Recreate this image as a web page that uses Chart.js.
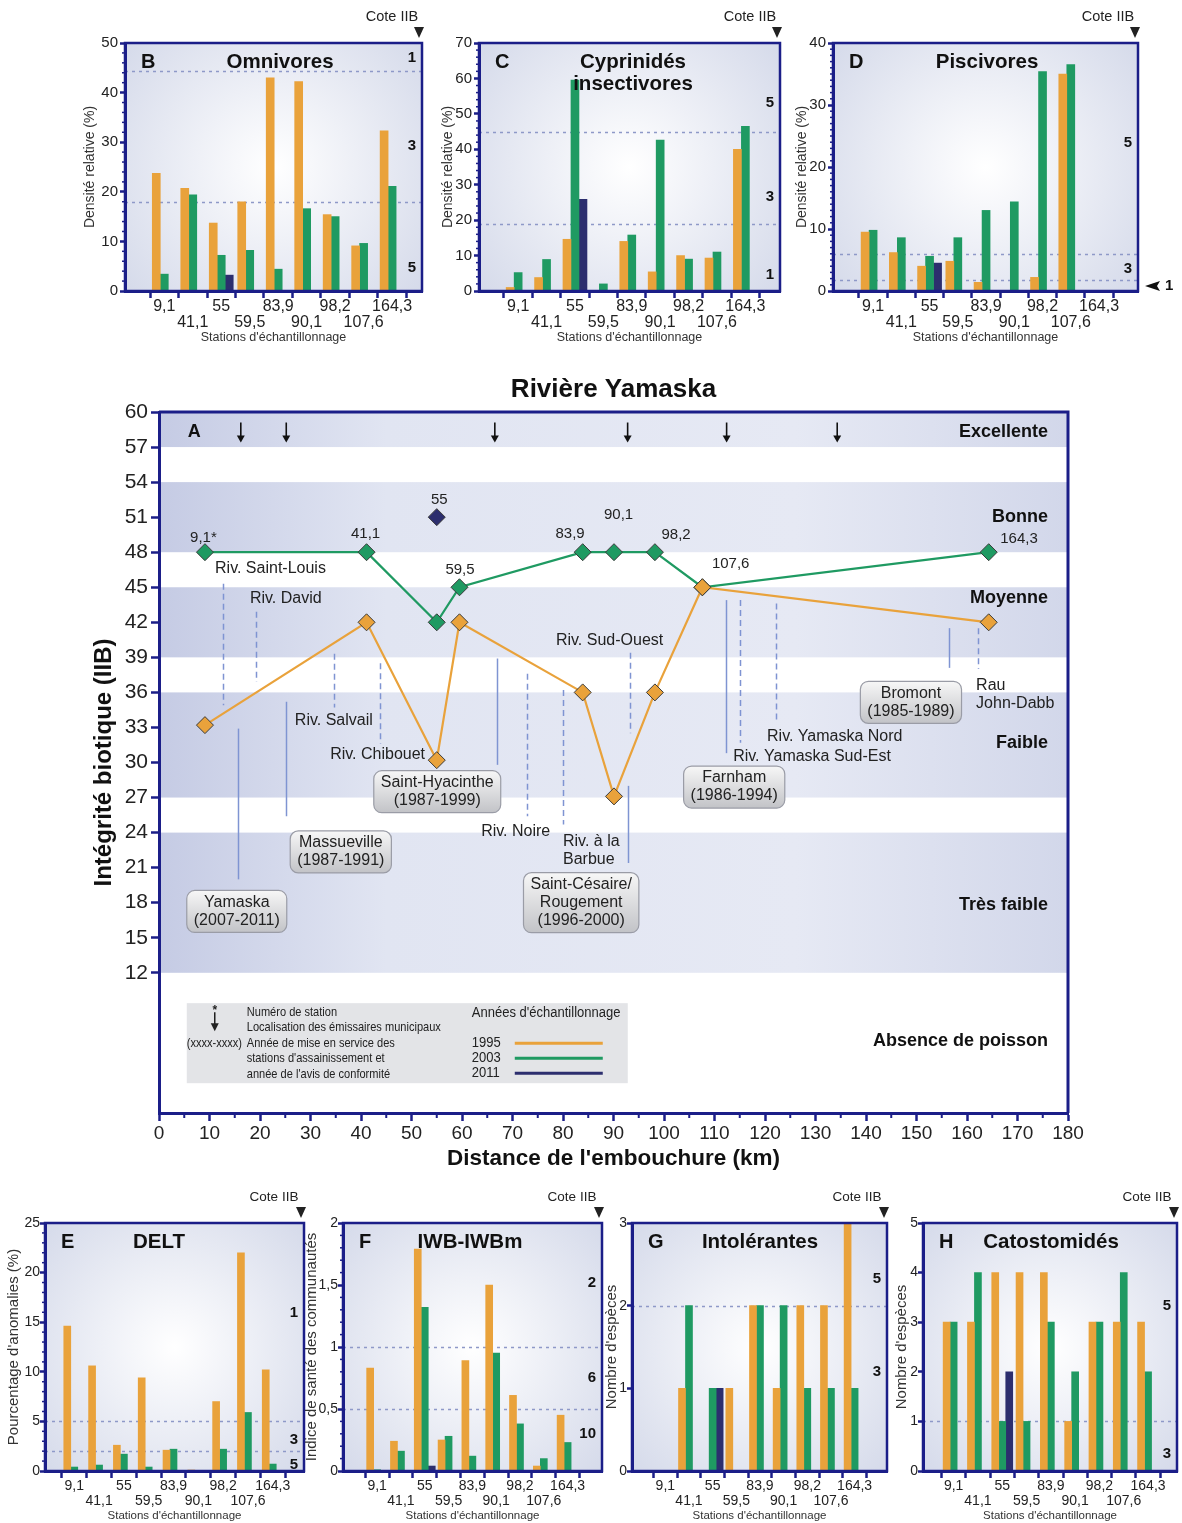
<!DOCTYPE html>
<html lang="fr">
<head>
<meta charset="utf-8">
<title>Rivière Yamaska</title>
<script src="https://cdn.jsdelivr.net/npm/chart.js@4.4.1/dist/chart.umd.min.js"></script>
<style>
  html, body { margin: 0; padding: 0; background: #fff; }
  #page { position: relative; width: 1182px; height: 1523px; overflow: hidden; }
  #page canvas { position: absolute; }
</style>
</head>
<body>
<div id="page"></div>
<script>
// ---- Données communes ----
const stations = ['9,1', '41,1', '55', '59,5', '83,9', '90,1', '98,2', '107,6', '164,3'];
const stationKm = [9.1, 41.1, 55, 59.5, 83.9, 90.1, 98.2, 107.6, 164.3];
const years = ['1995', '2003', '2011'];

// ---- A : IIB le long de la rivière ----
const iib1995 = [33.2, 42, 30.2, 42, 36, 27.1, 36, 45, 42];
const iib2003 = [48, 48, 42, 45, 48, 48, 48, 45, 48];
const iib2011Km = [55];
const iib2011 = [51];

const classNames = ['Excellente', 'Bonne', 'Moyenne', 'Faible', 'Très faible', 'Absence de poisson'];
const classLow = [57, 48, 39, 27, 12, 0];
const classHigh = [60, 54, 45, 36, 24, 12];
const classShaded = [true, true, true, true, true, false];
const classLabelIib = [58.3, 51, 44.1, 31.7, 17.8, 6.2];

const stationLabel = ['9,1*', '41,1', '55', '59,5', '83,9', '90,1', '98,2', '107,6', '164,3'];
const stationLabelKm = [8.8, 40.9, 55.5, 59.6, 81.4, 91.0, 102.4, 113.2, 170.3];
const stationLabelIib = [49.2, 49.6, 52.5, 46.5, 49.6, 51.2, 49.5, 47.0, 49.1];

const outfallKm = [16.2, 25.2, 66.5, 92.8, 112.4, 134.3];

const tribNames = ['Riv. Saint-Louis', 'Riv. David', 'Riv. Salvail', 'Riv. Chibouet', 'Riv. Noire',
  'Riv. à la\nBarbue', 'Riv. Sud-Ouest', 'Riv. Yamaska Sud-Est', 'Riv. Yamaska Nord', 'Rau\nJohn-Dabb'];
const tribKm = [12.6, 19.2, 34.6, 43.7, 72.9, 80.0, 93.2, 115.0, 122.1, 162.1];
const tribTop = [45.3, 42.9, 39.3, 38.5, 37.6, 36.2, 39.4, 43.9, 43.6, 41.5];
const tribBottom = [34.9, 36.9, 34.7, 31.6, 25.4, 24.7, 32.5, 31.7, 33.5, 38.0];
const tribLabelKm = [11.1, 18.0, 26.9, 33.9, 63.8, 80.0, 78.6, 113.7, 120.4, 161.8];
const tribLabelIib = [46.6, 44.0, 33.6, 30.65, 24.1, 22.45, 40.4, 30.5, 32.2, 35.85];

const plantNames = ['Yamaska\n(2007-2011)', 'Massueville\n(1987-1991)', 'Saint-Hyacinthe\n(1987-1999)',
  'Saint-Césaire/\nRougement\n(1996-2000)', 'Farnham\n(1986-1994)', 'Bromont\n(1985-1989)'];
const plantKm = [15.6, 25.1, 67.0, 92.9, 112.2, 156.4];
const plantTop = [32.9, 35.2, 38.9, 28.0, 43.9, 41.5];
const plantBottom = [20.0, 25.4, 29.8, 21.4, 30.8, 38.1];
const plantBoxKm = [15.4, 36.0, 55.1, 83.6, 113.9, 148.9];
const plantBoxIib = [17.25, 22.35, 27.5, 18.0, 27.9, 35.15];

const legendNotes = ['Numéro de station', 'Localisation des émissaires municipaux', 'Année de mise en service des',
  "stations d'assainissement et", "année de l'avis de conformité"];

// ---- B à H : métriques par station ----
const omni1995 = [23.7, 20.7, 13.7, 18.0, 43.0, 42.2, 15.4, 9.1, 32.3];
const omni2003 = [3.4, 19.4, 7.2, 8.2, 4.4, 16.6, 15.0, 9.6, 21.1];
const omni2011 = [null, null, 3.2, null, null, null, null, null, null];
const omniLimits = [44.3, 18];
const omniScores = ['1', '3', '5'];
const omniScoreAt = [47, 29.3, 4.6];

const cypr1995 = [1.0, 3.8, 14.6, 0, 14.0, 5.4, 10.0, 9.3, 40.0];
const cypr2003 = [5.2, 8.9, 59.5, 2.0, 15.8, 42.6, 9.0, 11.0, 46.5];
const cypr2011 = [null, null, 25.9, null, null, null, null, null, null];
const cyprLimits = [45, 19];
const cyprScores = ['5', '3', '1'];
const cyprScoreAt = [53, 26.5, 4.5];

const pisc1995 = [9.5, 6.2, 4.0, 4.8, 1.4, 0, 2.2, 35.0, 0];
const pisc2003 = [9.8, 8.6, 5.6, 8.6, 13.0, 14.4, 35.4, 36.5, 0];
const pisc2011 = [null, null, 4.5, null, null, null, null, null, null];
const piscLimits = [6, 1.8];
const piscScores = ['5', '3'];
const piscScoreAt = [23.9, 3.5];

const delt1995 = [14.6, 10.6, 2.6, 9.4, 2.1, 0.1, 7.0, 22.0, 10.2];
const delt2003 = [0.4, 0.6, 1.7, 0.4, 2.2, 0, 2.2, 5.9, 0.7];
const delt2011 = [null, null, null, null, null, null, null, null, null];
const deltLimits = [5, 2];
const deltScores = ['1', '3', '5'];
const deltScoreAt = [15.9, 3.1, 0.6];

const iwb1995 = [0.83, 0.24, 1.79, 0.25, 0.89, 1.5, 0.61, 0.04, 0.45];
const iwb2003 = [0.01, 0.16, 1.32, 0.28, 0.12, 0.95, 0.38, 0.10, 0.23];
const iwb2011 = [null, null, 0.04, null, null, null, null, null, null];
const iwbLimits = [1, 0.5];
const iwbScores = ['2', '6', '10'];
const iwbScoreAt = [1.52, 0.75, 0.3];

const intol1995 = [0, 1, 0, 1, 2, 1, 2, 2, 3];
const intol2003 = [0, 2, 1, 0, 2, 2, 1, 1, 1];
const intol2011 = [null, null, 1, null, null, null, null, null, null];
const intolLimits = [2];
const intolScores = ['5', '3'];
const intolScoreAt = [2.32, 1.2];

const cato1995 = [3, 3, 4, 4, 4, 1, 3, 3, 3];
const cato2003 = [3, 4, 1, 1, 3, 2, 3, 4, 2];
const cato2011 = [null, null, 2, null, null, null, null, null, null];
const catoLimits = [1];
const catoScores = ['5', '3'];
const catoScoreAt = [3.33, 0.34];

// ---- Styles ----
const C95 = '#E9A23B', C03 = '#1F9A62', C11 = '#2C2E6E', NAVY = '#1B1E88';
const FONT = '"Liberation Sans", Arial, Helvetica, sans-serif';
const seriesColors = [C95, C03, C11];

function makeCanvas(left, top, w, h) {
  const c = document.createElement('canvas');
  c.width = w; c.height = h;
  c.style.left = left + 'px'; c.style.top = top + 'px';
  c.style.width = w + 'px'; c.style.height = h + 'px';
  document.getElementById('page').appendChild(c);
  return c;
}

function textLines(ctx, lines, x, y, lh) {
  lines.forEach((s, i) => ctx.fillText(s, x, y + (i - (lines.length - 1) / 2) * lh));
}

// texte étroit (pas de police condensée installée)
function narrowText(ctx, s, x, y, sx) {
  ctx.save();
  ctx.translate(x, y);
  ctx.scale(sx, 1);
  ctx.fillText(s, 0, 0);
  ctx.restore();
}

function coteIIB(ctx, a, size) {
  ctx.fillStyle = '#222';
  ctx.font = `${size}px ${FONT}`;
  ctx.textAlign = 'center';
  ctx.textBaseline = 'middle';
  ctx.fillText('Cote IIB', a.right - 30, a.top - 26);
  ctx.beginPath();
  ctx.moveTo(a.right - 8, a.top - 16);
  ctx.lineTo(a.right + 2, a.top - 16);
  ctx.lineTo(a.right - 3, a.top - 5);
  ctx.closePath();
  ctx.fill();
}

// ---- Petits graphiques à barres ----
function panelPlugin(p) {
  return {
    id: 'panel' + p.letter,
    beforeDraw(chart) {
      const { ctx, chartArea: a, scales: { y } } = chart;
      ctx.save();
      const cx = (a.left + a.right) / 2, cy = (a.top + a.bottom) / 2;
      const g = ctx.createRadialGradient(cx, cy, 0, cx, cy, Math.hypot(a.width, a.height) / 2);
      g.addColorStop(0, '#ffffff');
      g.addColorStop(1, '#d5daea');
      ctx.fillStyle = g;
      ctx.fillRect(a.left, a.top, a.width, a.height);
      ctx.strokeStyle = '#8e99c8';
      ctx.lineWidth = 1.6;
      ctx.setLineDash([3, 4]);
      p.limits.forEach(v => {
        const yy = Math.round(y.getPixelForValue(v)) + 0.5;
        ctx.beginPath(); ctx.moveTo(a.left, yy); ctx.lineTo(a.right, yy); ctx.stroke();
      });
      ctx.restore();
    },
    afterDraw(chart) {
      const { ctx, chartArea: a, scales: { y } } = chart;
      ctx.save();
      ctx.strokeStyle = NAVY;
      ctx.lineWidth = 2.5;
      ctx.strokeRect(a.left, a.top, a.width, a.height);
      if (p.yMinor) {
        ctx.lineWidth = 1.5;
        for (let v = 0; v <= p.yMax + 1e-9; v += p.yMinor) {
          const r = v / p.yStep;
          if (Math.abs(r - Math.round(r)) < 1e-6) continue;
          const yy = y.getPixelForValue(v);
          ctx.beginPath(); ctx.moveTo(a.left - 3, yy); ctx.lineTo(a.left, yy); ctx.stroke();
        }
      }
      ctx.fillStyle = '#111';
      ctx.textBaseline = 'middle';
      ctx.font = `bold 20px ${FONT}`;
      ctx.textAlign = 'left';
      ctx.fillText(p.letter, a.left + 16, a.top + 19);
      ctx.font = `bold 20.5px ${FONT}`;
      ctx.textAlign = 'center';
      p.title.forEach((s, i) => ctx.fillText(s, a.left + p.titleDx, a.top + 19 + i * 22));
      ctx.font = `bold 15px ${FONT}`;
      ctx.textAlign = 'right';
      p.scores.forEach((s, i) => ctx.fillText(s, a.right - 6, y.getPixelForValue(p.scoreAt[i])));
      if (p.outside) {
        const yy = y.getPixelForValue(p.outside.at);
        ctx.beginPath();
        ctx.moveTo(a.right + 7, yy);
        ctx.lineTo(a.right + 22, yy - 5);
        ctx.lineTo(a.right + 19, yy);
        ctx.lineTo(a.right + 22, yy + 5);
        ctx.closePath();
        ctx.fill();
        ctx.textAlign = 'left';
        ctx.fillText(p.outside.text, a.right + 27, yy);
      }
      coteIIB(ctx, a, p.coteSize);
      ctx.restore();
    }
  };
}

function barPanel(p) {
  const topPad = 43;
  const rightPad = Math.min(45, 1182 - p.r);
  const w = p.yW + (p.r - p.l) + rightPad;
  const h = topPad + (p.b - p.t) + p.xH;
  const canvas = makeCanvas(p.l - p.yW, p.t - topPad, w, h);
  const pts = arr => arr.map((v, i) => ({ x: i, y: v }));
  return new Chart(canvas, {
    type: 'bar',
    data: {
      datasets: p.values.map((arr, k) => ({
        label: years[k], data: pts(arr), backgroundColor: seriesColors[k], borderWidth: 0
      }))
    },
    options: {
      responsive: false,
      animation: false,
      layout: { padding: { left: 0, top: topPad, right: rightPad, bottom: 0 }, autoPadding: false },
      datasets: { bar: { barThickness: p.bw, grouped: true } },
      plugins: { legend: { display: false }, tooltip: { enabled: false } },
      scales: {
        x: {
          type: 'linear', min: p.xMin, max: p.xMax,
          afterFit: s => { s.height = p.xH; },
          grid: { drawOnChartArea: false, tickLength: 7, tickWidth: 2.5, tickColor: NAVY },
          border: { color: NAVY, width: 3 },
          ticks: {
            stepSize: 1, includeBounds: false, autoSkip: false, maxRotation: 0, padding: 1,
            color: '#222', font: { family: FONT, size: p.xTickSize, lineHeight: p.xLine },
            callback: v => {
              const i = Math.round(v);
              if (Math.abs(v - i) > 1e-6 || i < 0 || i >= stations.length) return '';
              return i % 2 ? ['', stations[i]] : stations[i];
            }
          },
          title: { display: true, text: "Stations d'échantillonnage", color: '#333',
            font: { family: FONT, size: p.xTitleSize }, padding: { top: 0, bottom: 4 } }
        },
        y: {
          min: 0, max: p.yMax,
          afterFit: s => { s.width = p.yW; },
          grid: { drawOnChartArea: false, tickLength: 5, tickWidth: 2.5, tickColor: NAVY },
          border: { color: NAVY, width: 3 },
          ticks: {
            stepSize: p.yStep, padding: p.yPad, color: '#222', font: { family: FONT, size: p.yTickSize },
            callback: v => String(v).replace('.', ',')
          },
          title: { display: true, text: p.yTitle, color: '#333',
            font: { family: FONT, size: p.yTitleSize }, padding: { top: 4, bottom: 0 } }
        }
      }
    },
    plugins: [panelPlugin(p)]
  });
}

const topRow = { t: 43, b: 291, xH: 58, bw: 8, xTickSize: 16, xLine: 1.0, xTitleSize: 12.5,
  yTickSize: 15, yPad: 2, yTitleSize: 14, coteSize: 14.5 };
const bottomRow = { t: 1223, b: 1471, xH: 56, bw: 7, xTickSize: 14, xLine: 1.05, xTitleSize: 11.5,
  yTickSize: 14, yPad: 0, yTitleSize: 15, coteSize: 13.5 };

barPanel({ ...topRow, letter: 'B', title: ['Omnivores'], titleDx: 155, l: 125, r: 422, yW: 47,
  xMin: -0.8, xMax: 8.47, yMax: 50, yStep: 10, yMinor: 2, yTitle: 'Densité relative (%)',
  values: [omni1995, omni2003, omni2011], limits: omniLimits, scores: omniScores, scoreAt: omniScoreAt });
barPanel({ ...topRow, letter: 'C', title: ['Cyprinidés', 'insectivores'], titleDx: 154, l: 479, r: 780, yW: 43,
  xMin: -0.79, xMax: 8.63, yMax: 70, yStep: 10, yMinor: 2, yTitle: 'Densité relative (%)',
  values: [cypr1995, cypr2003, cypr2011], limits: cyprLimits, scores: cyprScores, scoreAt: cyprScoreAt });
barPanel({ ...topRow, letter: 'D', title: ['Piscivores'], titleDx: 154, l: 833, r: 1138, yW: 43,
  xMin: -0.82, xMax: 8.78, yMax: 40, yStep: 10, yMinor: 1, yTitle: 'Densité relative (%)',
  values: [pisc1995, pisc2003, pisc2011], limits: piscLimits, scores: piscScores, scoreAt: piscScoreAt,
  outside: { at: 0.8, text: '1' } });

barPanel({ ...bottomRow, letter: 'E', title: ['DELT'], titleDx: 114, l: 45, r: 304, yW: 44,
  xMin: -0.6, xMax: 8.68, yMax: 25, yStep: 5, yMinor: 1, yTitle: "Pourcentage d'anomalies (%)",
  values: [delt1995, delt2003, delt2011], limits: deltLimits, scores: deltScores, scoreAt: deltScoreAt });
barPanel({ ...bottomRow, letter: 'F', title: ['IWB-IWBm'], titleDx: 127, l: 343, r: 602, yW: 44,
  xMin: -0.83, xMax: 8.84, yMax: 2, yStep: 0.5, yMinor: 0.1, yTitle: 'Indice de santé des communautés',
  values: [iwb1995, iwb2003, iwb2011], limits: iwbLimits, scores: iwbScores, scoreAt: iwbScoreAt });
barPanel({ ...bottomRow, letter: 'G', title: ['Intolérantes'], titleDx: 128, l: 632, r: 887, yW: 33,
  xMin: -0.81, xMax: 8.77, yMax: 3, yStep: 1, yMinor: 0, yTitle: "Nombre d'espèces",
  values: [intol1995, intol2003, intol2011], limits: intolLimits, scores: intolScores, scoreAt: intolScoreAt });
barPanel({ ...bottomRow, letter: 'H', title: ['Catostomidés'], titleDx: 128, l: 923, r: 1177, yW: 34,
  xMin: -0.68, xMax: 8.61, yMax: 5, yStep: 1, yMinor: 0, yTitle: "Nombre d'espèces",
  values: [cato1995, cato2003, cato2011], limits: catoLimits, scores: catoScores, scoreAt: catoScoreAt });

// ---- Graphique principal A ----
const mainPlugin = {
  id: 'yamaska',
  beforeDraw(chart) {
    const { ctx, chartArea: a, scales: { y } } = chart;
    ctx.save();
    const g = ctx.createLinearGradient(a.left, 0, a.right, 0);
    g.addColorStop(0, '#c5cbe4');
    g.addColorStop(0.25, '#e1e5f2');
    g.addColorStop(0.7, '#e6e9f4');
    g.addColorStop(1, '#d2d7ea');
    ctx.fillStyle = g;
    classNames.forEach((n, i) => {
      if (!classShaded[i]) return;
      const yt = y.getPixelForValue(classHigh[i]), yb = y.getPixelForValue(classLow[i]);
      ctx.fillRect(a.left, yt, a.width, yb - yt);
    });
    ctx.restore();
  },
  beforeDatasetsDraw(chart) {
    const { ctx, chartArea: a, scales: { x, y } } = chart;
    ctx.save();
    ctx.textBaseline = 'middle';

    // classes
    ctx.fillStyle = '#111';
    ctx.font = `bold 18px ${FONT}`;
    ctx.textAlign = 'right';
    classNames.forEach((n, i) => ctx.fillText(n, a.right - 20, y.getPixelForValue(classLabelIib[i])));
    ctx.textAlign = 'left';
    ctx.fillText('A', x.getPixelForValue(5.7), y.getPixelForValue(58.3));

    // émissaires
    outfallKm.forEach(km => {
      const px = x.getPixelForValue(km), y1 = y.getPixelForValue(59.1), y2 = y.getPixelForValue(57.4);
      ctx.strokeStyle = '#111'; ctx.lineWidth = 1.6;
      ctx.beginPath(); ctx.moveTo(px, y1); ctx.lineTo(px, y2 - 6); ctx.stroke();
      ctx.beginPath(); ctx.moveTo(px - 4, y2 - 7); ctx.lineTo(px + 4, y2 - 7); ctx.lineTo(px, y2); ctx.closePath();
      ctx.fillStyle = '#111'; ctx.fill();
    });

    // tributaires (tirets) et stations d'assainissement (traits pleins)
    ctx.strokeStyle = '#7f94d2';
    ctx.lineWidth = 1.5;
    ctx.setLineDash([6, 4]);
    tribKm.forEach((km, i) => {
      const px = Math.round(x.getPixelForValue(km)) + 0.5;
      ctx.beginPath(); ctx.moveTo(px, y.getPixelForValue(tribTop[i])); ctx.lineTo(px, y.getPixelForValue(tribBottom[i])); ctx.stroke();
    });
    ctx.setLineDash([]);
    plantKm.forEach((km, i) => {
      const px = Math.round(x.getPixelForValue(km)) + 0.5;
      ctx.beginPath(); ctx.moveTo(px, y.getPixelForValue(plantTop[i])); ctx.lineTo(px, y.getPixelForValue(plantBottom[i])); ctx.stroke();
    });

    ctx.fillStyle = '#222';
    ctx.font = `16px ${FONT}`;
    ctx.textAlign = 'left';
    tribNames.forEach((n, i) => textLines(ctx, n.split('\n'), x.getPixelForValue(tribLabelKm[i]), y.getPixelForValue(tribLabelIib[i]), 18));

    // boîtes des stations d'assainissement
    plantNames.forEach((n, i) => {
      const lines = n.split('\n');
      const bx = x.getPixelForValue(plantBoxKm[i]), by = y.getPixelForValue(plantBoxIib[i]);
      ctx.font = `16px ${FONT}`;
      const tw = Math.max(...lines.map(s => ctx.measureText(s).width));
      const bw = tw + 14, bh = lines.length * 18 + 6;
      const g = ctx.createLinearGradient(0, by - bh / 2, 0, by + bh / 2);
      g.addColorStop(0, '#f7f7f7');
      g.addColorStop(1, '#c2c3c7');
      ctx.beginPath();
      ctx.roundRect(bx - bw / 2, by - bh / 2, bw, bh, 8);
      ctx.fillStyle = g; ctx.fill();
      ctx.strokeStyle = '#9a9ca6'; ctx.lineWidth = 1.2; ctx.stroke();
      ctx.fillStyle = '#222';
      ctx.textAlign = 'center';
      textLines(ctx, lines, bx, by, 18);
    });

    // numéros de stations
    ctx.font = `15px ${FONT}`;
    ctx.textAlign = 'center';
    stationLabel.forEach((s, i) => ctx.fillText(s, x.getPixelForValue(stationLabelKm[i]), y.getPixelForValue(stationLabelIib[i])));

    // légende
    const lx = x.getPixelForValue(5.5), ly = y.getPixelForValue(9.4);
    ctx.fillStyle = '#e3e4e7';
    ctx.fillRect(lx, ly, 441, 80);
    ctx.fillStyle = '#222';
    ctx.textAlign = 'left';
    ctx.font = `13px ${FONT}`;
    legendNotes.forEach((s, i) => narrowText(ctx, s, lx + 60, ly + 9 + i * 15.5, 0.85));
    narrowText(ctx, '(xxxx-xxxx)', lx, ly + 40, 0.85);
    ctx.font = `bold 12px ${FONT}`;
    ctx.textAlign = 'center';
    ctx.fillText('*', lx + 28, ly + 8);
    ctx.strokeStyle = '#111'; ctx.lineWidth = 1.4;
    ctx.beginPath(); ctx.moveTo(lx + 28, ly + 9); ctx.lineTo(lx + 28, ly + 21); ctx.stroke();
    ctx.beginPath(); ctx.moveTo(lx + 24, ly + 20); ctx.lineTo(lx + 32, ly + 20); ctx.lineTo(lx + 28, ly + 28); ctx.closePath(); ctx.fill();
    ctx.textAlign = 'left';
    ctx.font = `14px ${FONT}`;
    narrowText(ctx, "Années d'échantillonnage", lx + 285, ly + 10, 0.93);
    years.forEach((yr, k) => {
      const yy = ly + 40 + k * 15;
      ctx.fillStyle = '#222';
      narrowText(ctx, yr, lx + 285, yy, 0.93);
      ctx.strokeStyle = seriesColors[k]; ctx.lineWidth = 3;
      ctx.beginPath(); ctx.moveTo(lx + 328, yy); ctx.lineTo(lx + 416, yy); ctx.stroke();
    });
    ctx.restore();
  },
  afterDraw(chart) {
    const { ctx, chartArea: a, scales: { x } } = chart;
    ctx.save();
    ctx.strokeStyle = NAVY;
    ctx.lineWidth = 3;
    ctx.beginPath();
    ctx.moveTo(a.left, a.top); ctx.lineTo(a.right, a.top); ctx.lineTo(a.right, a.bottom);
    ctx.stroke();
    ctx.lineWidth = 2;
    for (let km = 5; km < 180; km += 10) {
      const px = x.getPixelForValue(km);
      ctx.beginPath(); ctx.moveTo(px, a.bottom); ctx.lineTo(px, a.bottom + 5); ctx.stroke();
    }
    ctx.fillStyle = '#111';
    ctx.font = `bold 26px ${FONT}`;
    ctx.textAlign = 'center';
    ctx.textBaseline = 'middle';
    ctx.fillText('Rivière Yamaska', (a.left + a.right) / 2, a.top - 22);
    ctx.restore();
  }
};

const mainCanvas = makeCanvas(0, 370, 1182, 805);
const pointStyleOf = (color) => ({
  pointStyle: 'rectRot', pointRadius: 8.5, pointHoverRadius: 8.5,
  pointBackgroundColor: color, pointBorderColor: '#3b3b3b', pointBorderWidth: 1
});
new Chart(mainCanvas, {
  type: 'line',
  data: {
    datasets: [
      { label: years[0], data: stationKm.map((km, i) => ({ x: km, y: iib1995[i] })),
        borderColor: C95, borderWidth: 2.2, tension: 0, ...pointStyleOf(C95) },
      { label: years[1], data: stationKm.map((km, i) => ({ x: km, y: iib2003[i] })),
        borderColor: C03, borderWidth: 2.2, tension: 0, ...pointStyleOf(C03) },
      { label: years[2], data: iib2011Km.map((km, i) => ({ x: km, y: iib2011[i] })),
        borderColor: C11, showLine: false, ...pointStyleOf(C11) }
    ]
  },
  options: {
    responsive: false,
    animation: false,
    layout: { padding: { left: 86, top: 42, right: 114, bottom: 0 }, autoPadding: false },
    plugins: { legend: { display: false }, tooltip: { enabled: false } },
    scales: {
      x: {
        type: 'linear', min: 0, max: 180,
        afterFit: s => { s.height = 62; },
        grid: { drawOnChartArea: false, tickLength: 8, tickWidth: 2.5, tickColor: NAVY },
        border: { color: NAVY, width: 3 },
        ticks: { stepSize: 10, autoSkip: false, maxRotation: 0, padding: 1, color: '#222', font: { family: FONT, size: 19 } },
        title: { display: true, text: "Distance de l'embouchure (km)", color: '#111',
          font: { family: FONT, size: 22.5, weight: 'bold' }, padding: { top: 0, bottom: 3 } }
      },
      y: {
        min: 0, max: 60,
        afterFit: s => { s.width = 73; },
        grid: {
          drawOnChartArea: false, tickLength: 8, tickWidth: 2.5,
          tickColor: c => (c.tick && c.tick.value >= 12) ? NAVY : 'rgba(0,0,0,0)'
        },
        border: { color: NAVY, width: 3 },
        ticks: { stepSize: 3, autoSkip: false, padding: 3, color: '#222', font: { family: FONT, size: 21 },
          callback: v => v >= 12 ? String(v) : '' },
        title: { display: true, text: 'Intégrité biotique (IIB)', color: '#111',
          font: { family: FONT, size: 24, weight: 'bold' }, padding: { top: 4, bottom: 0 } }
      }
    }
  },
  plugins: [mainPlugin]
});
</script>
</body>
</html>
